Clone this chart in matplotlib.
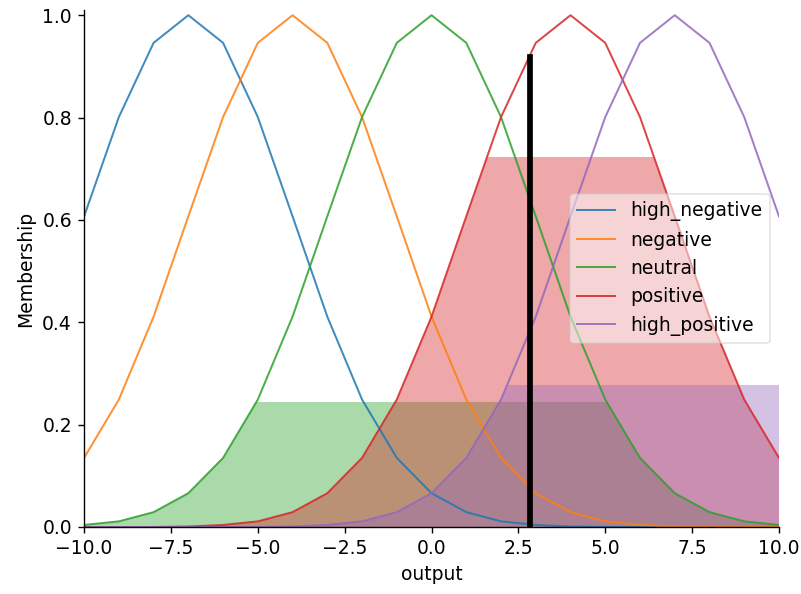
import matplotlib
matplotlib.use("Agg")
import matplotlib.pyplot as plt
from matplotlib.patches import Rectangle
import numpy as np

x = list(range(-10, 11))
high_negative = [0.607, 0.801, 0.946, 1.0, 0.946, 0.801, 0.607, 0.411, 0.249, 0.135, 0.066,
                 0.029, 0.011, 0.004, 0.001, 0.0, 0.0, 0.0, 0.0, 0.0, 0.0]
negative = [0.135, 0.249, 0.411, 0.607, 0.801, 0.946, 1.0, 0.946, 0.801, 0.607, 0.411,
            0.249, 0.135, 0.066, 0.029, 0.011, 0.004, 0.001, 0.0, 0.0, 0.0]
neutral = [0.004, 0.011, 0.029, 0.066, 0.135, 0.249, 0.411, 0.607, 0.801, 0.946, 1.0,
           0.946, 0.801, 0.607, 0.411, 0.249, 0.135, 0.066, 0.029, 0.011, 0.004]
positive = [0.0, 0.0, 0.0, 0.001, 0.004, 0.011, 0.029, 0.066, 0.135, 0.249, 0.411,
            0.607, 0.801, 0.946, 1.0, 0.946, 0.801, 0.607, 0.411, 0.249, 0.135]
high_positive = [0.0, 0.0, 0.0, 0.0, 0.0, 0.0, 0.001, 0.004, 0.011, 0.029, 0.066,
                 0.135, 0.249, 0.411, 0.607, 0.801, 0.946, 1.0, 0.946, 0.801, 0.607]

labels = ["high_negative", "negative", "neutral", "positive", "high_positive"]
series = [high_negative, negative, neutral, positive, high_positive]
activations = [0.0, 0.0, 0.245, 0.722, 0.277]
crisp_value = 2.83
crisp_height = 0.918

colors = ["#1f77b4", "#ff7f0e", "#2ca02c", "#d62728", "#9467bd"]

plt.rcParams["font.size"] = 10.8

fig = plt.figure(figsize=(6.408, 4.752), dpi=125)
ax = fig.add_axes([0.105, 0.1128, 0.8675, 0.8702])

xs = np.array(x, dtype=float)
for lab, s, c in zip(labels, series, colors):
    ax.plot(xs, s, color=c, linewidth=1.15, alpha=0.85, label=lab)

# fill under each curve, cut at its activation level (clip rectangle in data coords)
for s, a, c in zip(series, activations, colors):
    if a <= 0:
        continue
    poly = ax.fill_between(xs, np.zeros_like(xs), np.array(s), facecolor=c, alpha=0.4, linewidth=0)
    clip = Rectangle((xs[0] - 1, 0), (xs[-1] - xs[0]) + 2, a, transform=ax.transData,
                     facecolor="none", edgecolor="none")
    poly.set_clip_path(clip)

ax.plot([crisp_value, crisp_value], [0, crisp_height], color="k", linewidth=3.3)

ax.set_xlim(-10, 10)
ax.set_ylim(0, 1.01)
ax.set_xlabel("output")
ax.set_ylabel("Membership")
ax.spines["top"].set_visible(False)
ax.spines["right"].set_visible(False)
ax.legend(loc="center right", framealpha=0.5)

fig.savefig("out.png", dpi=125)
